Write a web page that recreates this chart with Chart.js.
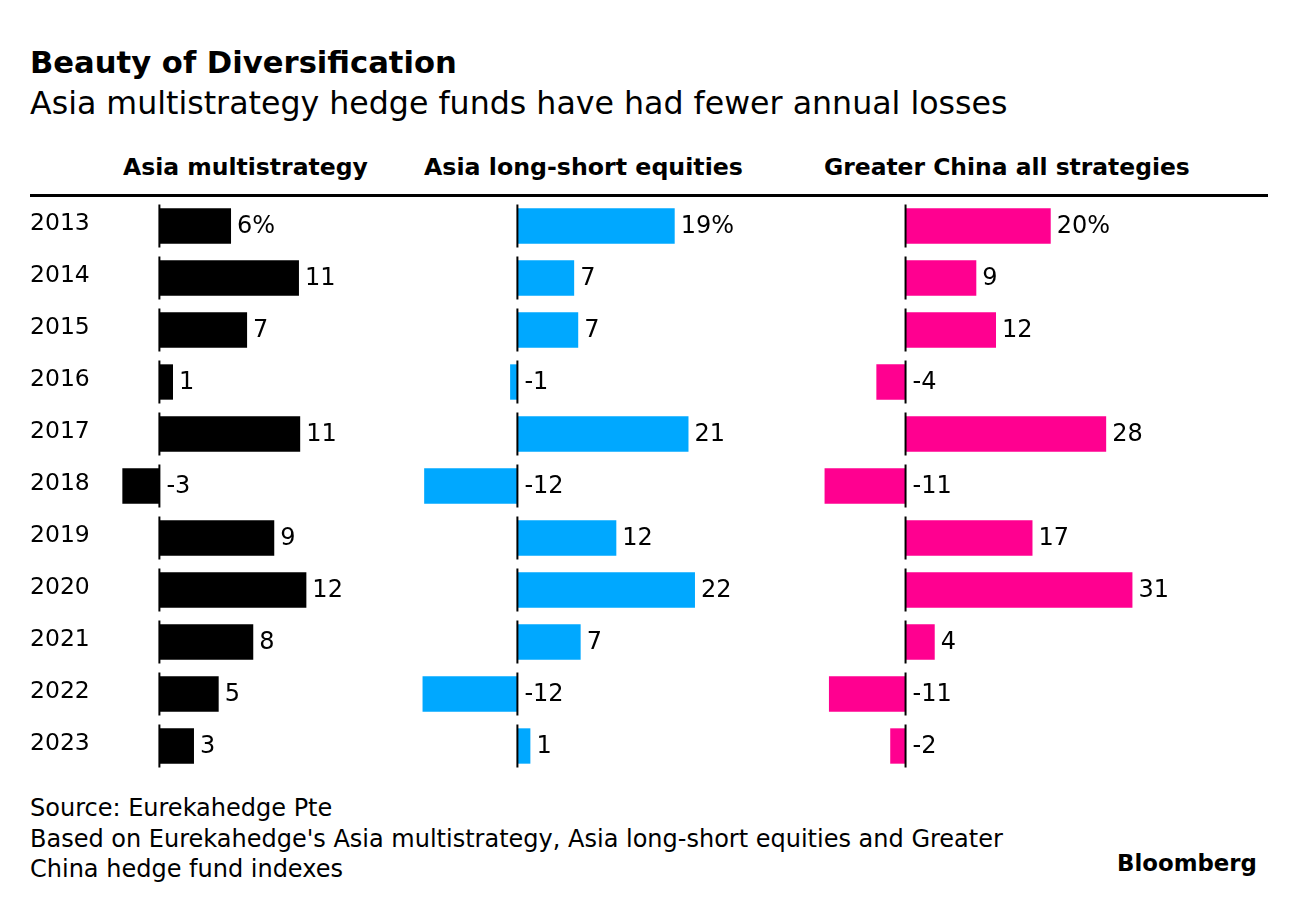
<!DOCTYPE html>
<html>

<head>
    <meta charset="utf-8">
    <title>Beauty of Diversification</title>
    <style>
        body { margin: 0; background: #fff; color: #000; font-family: "DejaVu Sans", "Liberation Sans", sans-serif; }
        #page { position: relative; width: 1296px; height: 908px; overflow: hidden; }
        .txt { position: absolute; line-height: 1; white-space: nowrap; font-size: 24px; }
        .bold { font-weight: 700; }
        .panel { position: absolute; top: 200px; height: 572px; }
    </style>
</head>

<body>
    <div id="page">
        <div class="txt bold" id="title">Beauty of Diversification</div>
        <div class="txt" id="subtitle">Asia multistrategy hedge funds have had fewer annual losses</div>

        <div class="txt bold" id="h1">Asia multistrategy</div>
        <div class="txt bold" id="h2">Asia long-short equities</div>
        <div class="txt bold" id="h3">Greater China all strategies</div>
        <div style="position:absolute;left:30px;top:194px;width:1238px;height:3px;background:#000;"></div>

        <div class="panel" style="left:30px;width:367px;"><canvas id="multi"></canvas></div>
        <div class="panel" style="left:412px;width:340px;"><canvas id="longShort"></canvas></div>
        <div class="panel" style="left:818px;width:361px;"><canvas id="china"></canvas></div>

        <div class="txt" id="foot1">Source: Eurekahedge Pte</div>
        <div class="txt" id="foot2">Based on Eurekahedge's Asia multistrategy, Asia long-short equities and Greater</div>
        <div class="txt" id="foot3">China hedge fund indexes</div>
        <div class="txt bold" id="brand">Bloomberg</div>
    </div>

    <script src="https://cdn.jsdelivr.net/npm/chart.js@4.4.1/dist/chart.umd.min.js"></script>
    <script>
        const years = ['2013', '2014', '2015', '2016', '2017', '2018', '2019', '2020', '2021', '2022', '2023'];

        // annual returns, %; bar lengths, text as printed
        const multiValues = [5.8, 11.3, 7.1, 1.1, 11.4, -3.0, 9.3, 11.9, 7.6, 4.8, 2.8];
        const multiText = ['6%', '11', '7', '1', '11', '-3', '9', '12', '8', '5', '3'];

        const longShortValues = [19.4, 7.0, 7.5, -0.9, 21.1, -11.5, 12.2, 21.9, 7.8, -11.7, 1.6];
        const longShortText = ['19%', '7', '7', '-1', '21', '-12', '12', '22', '7', '-12', '1'];

        const chinaValues = [19.9, 9.7, 12.4, -4.0, 27.5, -11.1, 17.4, 31.1, 4.0, -10.5, -2.1];
        const chinaText = ['20%', '9', '12', '-4', '28', '-11', '17', '31', '4', '-11', '-2'];

        // size a text line to a given width, then put its baseline at y
        function place(id, left, baseline, width) {
            const el = document.getElementById(id);
            const fs = parseFloat(getComputedStyle(el).fontSize);
            const size = width ? fs * width / el.getBoundingClientRect().width : fs;
            el.style.fontSize = size + 'px';
            el.style.left = left + 'px';
            el.style.top = (baseline - 0.846 * size) + 'px';
            return size;
        }

        place('title', 30, 74, 427);
        place('subtitle', 30, 115, 978);
        place('h1', 123, 176, 245);
        place('h2', 424, 176, 319);
        place('h3', 824, 176, 366);
        const footSize = place('foot2', 30, 847, 973);
        document.getElementById('foot1').style.fontSize = footSize + 'px';
        document.getElementById('foot3').style.fontSize = footSize + 'px';
        place('foot1', 30, 816);
        place('foot3', 30, 877);
        place('brand', 1117, 871, 140);

        // zero line per row + value text next to each bar
        const valueLabels = {
            id: 'valueLabels',
            afterDatasetsDraw(chart) {
                const ctx = chart.ctx;
                const x0 = chart.scales.x.getPixelForValue(0);
                const ds = chart.data.datasets[0];
                ctx.save();
                ctx.strokeStyle = '#000';
                ctx.lineWidth = 2;
                ctx.fillStyle = '#000';
                ctx.font = '24px "DejaVu Sans"';
                ctx.textBaseline = 'middle';
                chart.getDatasetMeta(0).data.forEach((bar, i) => {
                    ctx.beginPath();
                    ctx.moveTo(x0, bar.y - 21.5);
                    ctx.lineTo(x0, bar.y + 21.5);
                    ctx.stroke();
                    const x = ds.data[i] >= 0 ? bar.x + 6 : x0 + 7;
                    ctx.fillText(ds.valueText[i], x, bar.y + 1);
                });
                ctx.restore();
            }
        };

        function makePanel(id, values, text, color, min, max, showYears) {
            return new Chart(document.getElementById(id), {
                type: 'bar',
                data: {
                    labels: years,
                    datasets: [{
                        data: values,
                        valueText: text,
                        backgroundColor: color,
                        barPercentage: 0.68,
                        categoryPercentage: 1
                    }]
                },
                options: {
                    indexAxis: 'y',
                    responsive: true,
                    maintainAspectRatio: false,
                    animation: false,
                    layout: { autoPadding: false, padding: { left: 0, right: 40, top: 0, bottom: 0 } },
                    plugins: { legend: { display: false }, tooltip: { enabled: false } },
                    scales: {
                        x: { display: false, min: min, max: max },
                        y: {
                            display: showYears,
                            grid: { display: false },
                            border: { display: false },
                            ticks: {
                                color: '#000',
                                font: { family: 'DejaVu Sans', size: 23.5 },
                                crossAlign: 'far',
                                padding: 0,
                                labelOffset: -2
                            },
                            afterFit(scale) {
                                if (showYears) scale.width = 80;
                                // keep the year labels from squeezing the plot area
                                scale.paddingTop = 0;
                                scale.paddingBottom = 0;
                            }
                        }
                    }
                },
                plugins: [valueLabels]
            });
        }

        makePanel('multi', multiValues, multiText, '#000000', -4, 16, true);
        makePanel('longShort', longShortValues, longShortText, '#00a8ff', -13, 24, false);
        makePanel('china', chinaValues, chinaText, '#ff0090', -12, 32, false);
    </script>
</body>

</html>
